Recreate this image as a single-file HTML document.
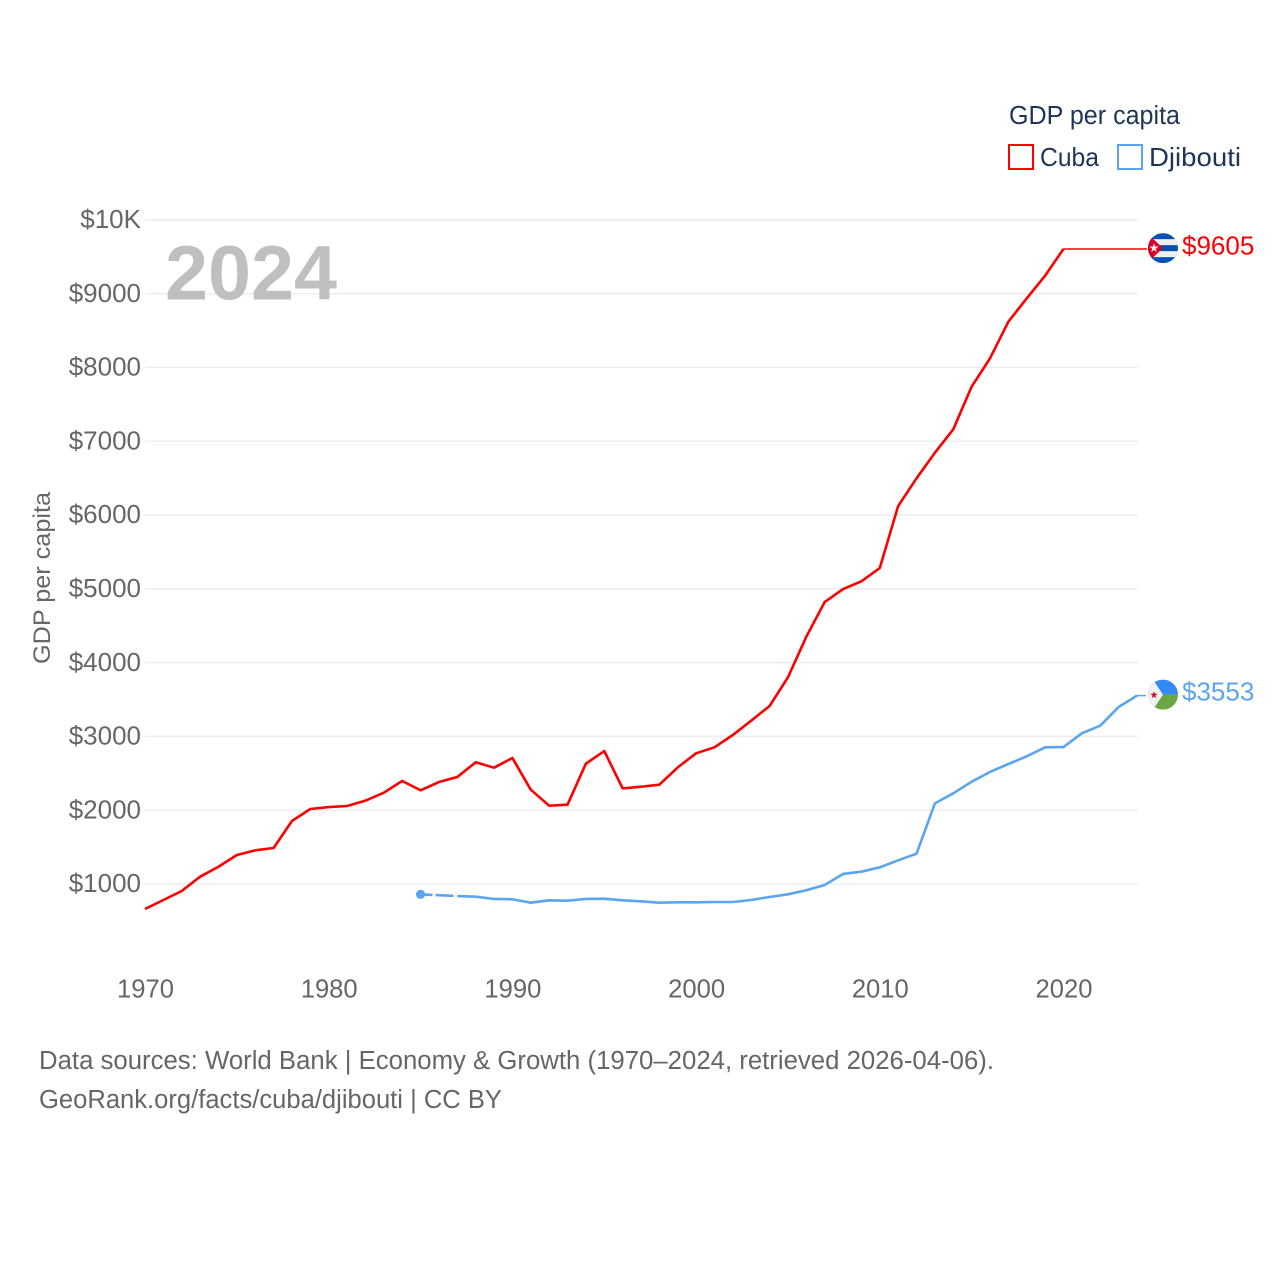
<!DOCTYPE html>
<html lang="en">
<head>
<meta charset="utf-8">
<title>GDP per capita: Cuba and Djibouti</title>
<style>
html,body{margin:0;padding:0;background:#fff;width:1280px;height:1280px;overflow:hidden}
svg{display:block;font-family:"Liberation Sans",sans-serif}
</style>
</head>
<body>
<svg id="chart" xmlns="http://www.w3.org/2000/svg" width="1280" height="1280" viewBox="0 0 1280 1280">
  <defs>
    <clipPath id="flag-clip"><circle cx="0" cy="0" r="15"></circle></clipPath>
  </defs>
  <rect x="0" y="0" width="1280" height="1280" fill="#fff"></rect>
  <g id="grid"></g>
  <g id="yticks"></g>
  <g id="xticks"></g>
  <text x="165" y="299.5" font-size="77" font-weight="700" fill="#bfbfbf" textLength="172" lengthAdjust="spacingAndGlyphs">2024</text>
  <text transform="translate(50,578) rotate(-90)" text-anchor="middle" font-size="24.5" fill="#666" textLength="172" lengthAdjust="spacingAndGlyphs">GDP per capita</text>
  <g id="series"></g>

  <g id="cuba-flag" clip-path="url(#flag-clip)">
    <rect x="-15" y="-15" width="30" height="30" fill="#0052b4"></rect>
    <rect x="-15" y="-9" width="30" height="6" fill="#f0f0f0"></rect>
    <rect x="-15" y="3" width="30" height="6" fill="#f0f0f0"></rect>
    <polygon points="-15,-14 0,0 -15,14" fill="#d80027"></polygon>
    <polygon points="-9,-5 -7.9,-1.6 -4.3,-1.6 -7.2,0.6 -6.1,4 -9,1.9 -11.9,4 -10.8,0.6 -13.7,-1.6 -10.1,-1.6" fill="#f0f0f0"></polygon>
  </g>
  <g id="djibouti-flag" clip-path="url(#flag-clip)">
    <rect x="-15" y="-15" width="30" height="15" fill="#338af3"></rect>
    <rect x="-15" y="0" width="30" height="15" fill="#6da544"></rect>
    <polygon points="-15,-15 -10,-15 0,0 -10,15 -15,15" fill="#f0f0f0"></polygon>
    <polygon points="-9,-3.5 -8.1,-0.8 -5.3,-0.8 -7.6,0.9 -6.7,3.6 -9,1.9 -11.3,3.6 -10.4,0.9 -12.7,-0.8 -9.9,-0.8" fill="#d80027"></polygon>
  </g>
  <g id="end-labels"></g>

  <g>
    <text x="1009" y="124" font-size="25.5" fill="#1d3557" textLength="171" lengthAdjust="spacingAndGlyphs">GDP per capita</text>
    <rect x="1009" y="145" width="24" height="24" fill="#fff" stroke="#ff0000" stroke-width="2"></rect>
    <text x="1040" y="166" font-size="26" fill="#1d3557" textLength="59" lengthAdjust="spacingAndGlyphs">Cuba</text>
    <rect x="1118" y="145" width="24" height="24" fill="#fff" stroke="#5ba5f0" stroke-width="2"></rect>
    <text x="1149" y="166" font-size="26" fill="#1d3557" textLength="92" lengthAdjust="spacingAndGlyphs">Djibouti</text>
  </g>

  <text x="39" y="1069" font-size="25.5" fill="#666" textLength="955" lengthAdjust="spacingAndGlyphs">Data sources: World Bank | Economy &amp; Growth (1970–2024, retrieved 2026-04-06).</text>
  <text x="39" y="1108" font-size="25.5" fill="#666" textLength="463" lengthAdjust="spacingAndGlyphs">GeoRank.org/facts/cuba/djibouti | CC BY</text>
</svg>
<script>
const yTickValues = [1000, 2000, 3000, 4000, 5000, 6000, 7000, 8000, 9000, 10000];
const yTickLabels = ["$1000", "$2000", "$3000", "$4000", "$5000", "$6000", "$7000", "$8000", "$9000", "$10K"];
const xTickYears = [1970, 1980, 1990, 2000, 2010, 2020];
const cubaStartYear = 1970;
const cubaValues = [661, 783, 905, 1099, 1234, 1393, 1456, 1488, 1854, 2016, 2043, 2057, 2129, 2237, 2396, 2270, 2382, 2450, 2649, 2576, 2707, 2278, 2061, 2075, 2630, 2802, 2296, 2318, 2346, 2580, 2771, 2852, 3019, 3213, 3412, 3800, 4351, 4821, 4997, 5101, 5282, 6122, 6497, 6844, 7161, 7739, 8123, 8619, 8936, 9243, 9605];
const djiboutiStartYear = 1985;
const djiboutiValues = [860, 848, 837, 828, 797, 793, 747, 779, 774, 797, 801, 779, 765, 747, 752, 752, 756, 756, 783, 824, 860, 915, 986, 1136, 1167, 1226, 1321, 1411, 2093, 2229, 2386, 2518, 2626, 2730, 2852, 2856, 3042, 3145, 3398, 3553];
const cubaLabel = "$9605";
const cubaLatest = 9605;
const djiboutiLabel = "$3553";
const djiboutiLatest = 3553;

const SVGNS = "http://www.w3.org/2000/svg";
const RED = "#ff0000";
const BLUE = "#5ba5f0";
const plotLeft = 145;
const plotRight = 1138;
const flagX = 1163;

function xScale(year) { return plotLeft + (year - 1970) * 18.37; }
function yScale(value) { return 884 - (value - 1000) * 0.0738; }
function make(tag, parent) {
  const el = document.createElementNS(SVGNS, tag);
  parent.appendChild(el);
  return el;
}
function pathFrom(startYear, values) {
  return values.map(function (v, i) {
    return (i ? "L" : "M") + xScale(startYear + i).toFixed(2) + " " + yScale(v).toFixed(2);
  }).join(" ");
}
function styleLine(el, color, width) {
  el.setAttribute("fill", "none");
  el.setAttribute("stroke", color);
  el.setAttribute("stroke-width", width);
  el.setAttribute("stroke-linejoin", "round");
}

const grid = document.getElementById("grid");
const yticks = document.getElementById("yticks");
yTickValues.forEach(function (v, i) {
  const line = make("line", grid);
  
  
  line.setAttribute("x1", plotLeft);
  line.setAttribute("x2", plotRight);
  line.setAttribute("y1", yScale(v));
  line.setAttribute("y2", yScale(v));
  line.setAttribute("stroke", "#eeeeee");
  line.setAttribute("stroke-width", "1.5");
  const t = make("text", yticks);
  
  
  t.setAttribute("x", 141);
  t.setAttribute("y", yScale(v) + 8.2);
  t.setAttribute("text-anchor", "end");
  t.setAttribute("font-size", "26");
  t.setAttribute("fill", "#666");
  t.textContent = yTickLabels[i];
});

const xticks = document.getElementById("xticks");
xTickYears.forEach(function (year) {
  const t = make("text", xticks);
  
  
  t.setAttribute("x", xScale(year) + 0.5);
  t.setAttribute("y", 997.5);
  t.setAttribute("text-anchor", "middle");
  t.setAttribute("font-size", "25.6");
  t.setAttribute("fill", "#666");
  t.textContent = String(year);
});

const series = document.getElementById("series");

const cubaLine = make("path", series);


cubaLine.setAttribute("d", pathFrom(cubaStartYear, cubaValues));
styleLine(cubaLine, RED, 2.6);

const cubaLastX = xScale(cubaStartYear + cubaValues.length - 1);
const cubaConnector = make("line", series);


cubaConnector.setAttribute("x1", cubaLastX);
cubaConnector.setAttribute("x2", flagX - 16);
cubaConnector.setAttribute("y1", yScale(cubaLatest));
cubaConnector.setAttribute("y2", yScale(cubaLatest));
styleLine(cubaConnector, RED, 1.5);

const djiDashed = make("path", series);


djiDashed.setAttribute("d", pathFrom(djiboutiStartYear, djiboutiValues.slice(0, 3)));
styleLine(djiDashed, BLUE, 2.6);
djiDashed.setAttribute("stroke-dasharray", "12 3 18 4");

const djiLine = make("path", series);


djiLine.setAttribute("d", pathFrom(djiboutiStartYear + 2, djiboutiValues.slice(2)));
styleLine(djiLine, BLUE, 2.6);

const djiDot = make("circle", series);


djiDot.setAttribute("cx", xScale(djiboutiStartYear));
djiDot.setAttribute("cy", yScale(djiboutiValues[0]));
djiDot.setAttribute("r", "4.6");
djiDot.setAttribute("fill", BLUE);

const djiLastX = xScale(djiboutiStartYear + djiboutiValues.length - 1);
const djiConnector = make("line", series);


djiConnector.setAttribute("x1", djiLastX);
djiConnector.setAttribute("x2", flagX - 17);
djiConnector.setAttribute("y1", yScale(djiboutiLatest));
djiConnector.setAttribute("y2", yScale(djiboutiLatest));
styleLine(djiConnector, BLUE, 1.5);

document.getElementById("cuba-flag").setAttribute("transform", "translate(" + flagX + "," + (yScale(cubaLatest) - 0.8) + ")");
document.getElementById("djibouti-flag").setAttribute("transform", "translate(" + flagX + "," + (yScale(djiboutiLatest) - 1) + ")");

const endLabels = document.getElementById("end-labels");
const cubaEnd = make("text", endLabels);


cubaEnd.setAttribute("x", 1182);
cubaEnd.setAttribute("y", yScale(cubaLatest) + 5.6);
cubaEnd.setAttribute("font-size", "26");
cubaEnd.setAttribute("fill", RED);
cubaEnd.textContent = cubaLabel;

const djiEnd = make("text", endLabels);


djiEnd.setAttribute("x", 1182);
djiEnd.setAttribute("y", yScale(djiboutiLatest) + 5);
djiEnd.setAttribute("font-size", "26");
djiEnd.setAttribute("fill", BLUE);
djiEnd.textContent = djiboutiLabel;
</script>
</body>
</html>
